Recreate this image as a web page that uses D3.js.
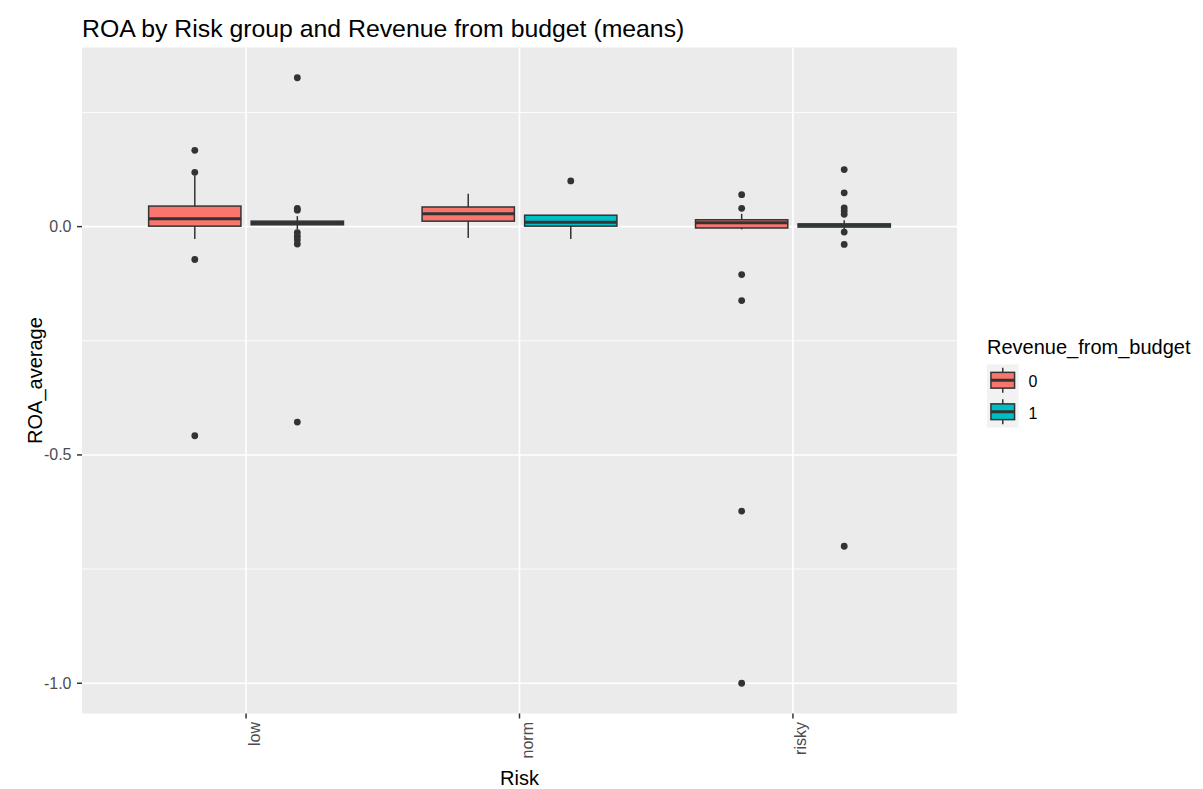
<!DOCTYPE html>
<html>
<head>
<meta charset="utf-8">
<script src="https://cdn.jsdelivr.net/npm/d3@7"></script>
<style>
  html, body { margin: 0; padding: 0; background: #ffffff; }
  svg { display: block; font-family: "Liberation Sans", Arial, sans-serif; }
</style>
</head>
<body>
<svg id="chart" width="1203" height="789"></svg>
<script>
// Risk groups on the x axis and revenue-from-budget groups (dodged boxes)
const categories = ["low", "norm", "risky"];
const groups = ["0", "1"];
const groupColors = ["#F8766D", "#00BFC4"];

// Box statistics, one entry per (category, group), in order:
// low/0, low/1, norm/0, norm/1, risky/0, risky/1
const boxCategory = ["low", "low", "norm", "norm", "risky", "risky"];
const boxGroup    = ["0", "1", "0", "1", "0", "1"];
const whiskerLow  = [-0.027, -0.006, -0.025, -0.027, -0.006, -0.006];
const q1          = [0.001, 0.004, 0.012, 0.001, -0.003, -0.001];
const median      = [0.0175, 0.008, 0.028, 0.0095, 0.0085, 0.003];
const q3          = [0.045, 0.012, 0.043, 0.025, 0.015, 0.006];
const whiskerHigh = [0.112, 0.023, 0.072, 0.025, 0.028, 0.014];
const outliers = [
  [0.167, 0.119, -0.072, -0.458],
  [0.326, 0.040, 0.036, -0.013, -0.021, -0.029, -0.038, -0.428],
  [],
  [0.100],
  [0.070, 0.040, -0.105, -0.162, -0.623, -1.0],
  [0.125, 0.074, 0.041, 0.034, 0.027, -0.012, -0.039, -0.700]
];

const yMajorTicks = [0.0, -0.5, -1.0];
const yTickLabels = ["0.0", "-0.5", "-1.0"];
const yMinorTicks = [0.25, -0.25, -0.75];

const titleText = "ROA by Risk group and Revenue from budget (means)";
const xTitle = "Risk";
const yTitle = "ROA_average";
const legendTitle = "Revenue_from_budget";

const svg = d3.select("#chart");
const panel = { left: 82, right: 957, top: 47.5, bottom: 713.5 };

// y domain: data extent expanded by 5% on each side
const allValues = whiskerLow.concat(whiskerHigh, q1, q3, outliers.flat());
const yMin = d3.min(allValues), yMax = d3.max(allValues);
const pad = (yMax - yMin) * 0.05;
const y = d3.scaleLinear().domain([yMin - pad, yMax + pad]).range([panel.bottom, panel.top]);

const x = d3.scalePoint().domain(categories).range([panel.left, panel.right]).padding(0.6);
const step = x.step();
const dodgeWidth = 0.75;
const boxWidth = dodgeWidth / groups.length * 0.9 * step;
const dodge = d3.scaleBand().domain(groups).range([-dodgeWidth / 2 * step, dodgeWidth / 2 * step]);
const color = d3.scaleOrdinal().domain(groups).range(groupColors);

// Panel background and grid
svg.append("rect")
  .attr("x", panel.left).attr("y", panel.top)
  .attr("width", panel.right - panel.left).attr("height", panel.bottom - panel.top)
  .attr("fill", "#EBEBEB");

svg.append("g").selectAll("line").data(yMinorTicks).join("line")
  .attr("x1", panel.left).attr("x2", panel.right)
  .attr("y1", d => y(d)).attr("y2", d => y(d))
  .attr("stroke", "#ffffff").attr("stroke-width", 0.8);

svg.append("g").selectAll("line").data(yMajorTicks).join("line")
  .attr("x1", panel.left).attr("x2", panel.right)
  .attr("y1", d => y(d)).attr("y2", d => y(d))
  .attr("stroke", "#ffffff").attr("stroke-width", 1.6);

svg.append("g").selectAll("line").data(categories).join("line")
  .attr("x1", d => x(d)).attr("x2", d => x(d))
  .attr("y1", panel.top).attr("y2", panel.bottom)
  .attr("stroke", "#ffffff").attr("stroke-width", 1.6);

// Boxes
const boxes = boxCategory.map((c, i) => ({
  c, g: boxGroup[i], lo: whiskerLow[i], q1: q1[i], med: median[i], q3: q3[i], hi: whiskerHigh[i], out: outliers[i]
}));
const boxG = svg.append("g");
boxes.forEach(b => {
  const cx = x(b.c) + dodge(b.g) + dodge.bandwidth() / 2;
  const g = boxG.append("g");
  g.append("line").attr("x1", cx).attr("x2", cx).attr("y1", y(b.q3)).attr("y2", y(b.hi))
    .attr("stroke", "#333333").attr("stroke-width", 1.5);
  g.append("line").attr("x1", cx).attr("x2", cx).attr("y1", y(b.q1)).attr("y2", y(b.lo))
    .attr("stroke", "#333333").attr("stroke-width", 1.5);
  g.append("rect")
    .attr("x", cx - boxWidth / 2).attr("width", boxWidth)
    .attr("y", y(b.q3)).attr("height", Math.max(0.5, y(b.q1) - y(b.q3)))
    .attr("fill", color(b.g)).attr("stroke", "#333333").attr("stroke-width", 1.5);
  g.append("line")
    .attr("x1", cx - boxWidth / 2).attr("x2", cx + boxWidth / 2)
    .attr("y1", y(b.med)).attr("y2", y(b.med))
    .attr("stroke", "#333333").attr("stroke-width", 3);
  g.selectAll("circle").data(b.out).join("circle")
    .attr("cx", cx).attr("cy", d => y(d)).attr("r", 3.4)
    .attr("fill", "#333333");
});

// Y axis ticks and labels
const yAxis = svg.append("g");
yAxis.selectAll("line").data(yMajorTicks).join("line")
  .attr("x1", panel.left - 5).attr("x2", panel.left)
  .attr("y1", d => y(d)).attr("y2", d => y(d))
  .attr("stroke", "#333333").attr("stroke-width", 1.5);
yAxis.selectAll("text").data(yMajorTicks).join("text")
  .attr("x", panel.left - 10.5).attr("y", d => y(d))
  .attr("text-anchor", "end").attr("dominant-baseline", "central")
  .attr("font-size", 16).attr("fill", "#4D4D4D")
  .text((d, i) => yTickLabels[i]);

// X axis ticks and rotated labels
const xAxis = svg.append("g");
xAxis.selectAll("line").data(categories).join("line")
  .attr("x1", d => x(d)).attr("x2", d => x(d))
  .attr("y1", panel.bottom).attr("y2", panel.bottom + 5)
  .attr("stroke", "#333333").attr("stroke-width", 1.5);
xAxis.selectAll("text").data(categories).join("text")
  .attr("transform", d => `translate(${x(d) + 13.5},${panel.bottom + 8.5}) rotate(-90)`)
  .attr("text-anchor", "end")
  .attr("font-size", 16).attr("fill", "#4D4D4D")
  .text(d => d);

// Titles
svg.append("text").attr("x", panel.left).attr("y", 37)
  .attr("font-size", 24.8).attr("fill", "#000000").text(titleText);
svg.append("text").attr("x", (panel.left + panel.right) / 2).attr("y", 785)
  .attr("text-anchor", "middle").attr("font-size", 20).attr("fill", "#000000").text(xTitle);
svg.append("text")
  .attr("transform", `translate(42,${(panel.top + panel.bottom) / 2}) rotate(-90)`)
  .attr("text-anchor", "middle").attr("font-size", 20).attr("fill", "#000000").text(yTitle);

// Legend
const legend = svg.append("g").attr("transform", "translate(987,0)");
legend.append("text").attr("x", 0).attr("y", 353.5)
  .attr("font-size", 20).attr("fill", "#000000").text(legendTitle);
const keySize = 31.5;
const keyTop = 364.5;
groups.forEach((grp, i) => {
  const k = legend.append("g").attr("transform", `translate(0,${keyTop + i * keySize})`);
  k.append("rect").attr("width", keySize).attr("height", keySize).attr("fill", "#F2F2F2");
  const mid = keySize / 2;
  k.append("line").attr("x1", mid).attr("x2", mid).attr("y1", keySize * 0.1).attr("y2", keySize * 0.25)
    .attr("stroke", "#333333").attr("stroke-width", 1.5);
  k.append("line").attr("x1", mid).attr("x2", mid).attr("y1", keySize * 0.75).attr("y2", keySize * 0.9)
    .attr("stroke", "#333333").attr("stroke-width", 1.5);
  k.append("rect").attr("x", keySize * 0.125).attr("y", keySize * 0.25)
    .attr("width", keySize * 0.75).attr("height", keySize * 0.5)
    .attr("fill", color(grp)).attr("stroke", "#333333").attr("stroke-width", 1.5);
  k.append("line").attr("x1", keySize * 0.125).attr("x2", keySize * 0.875).attr("y1", mid).attr("y2", mid)
    .attr("stroke", "#333333").attr("stroke-width", 3);
  k.append("text").attr("x", keySize + 10).attr("y", mid + 1.5)
    .attr("dominant-baseline", "central").attr("font-size", 16).attr("fill", "#000000").text(grp);
});
</script>
</body>
</html>
